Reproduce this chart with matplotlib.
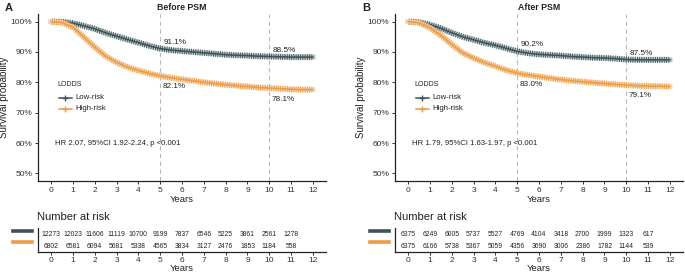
import matplotlib
matplotlib.use("Agg")
import matplotlib.pyplot as plt
import matplotlib.patheffects as pe
from matplotlib.lines import Line2D

plt.rcParams['font.family'] = ['Liberation Sans', 'DejaVu Sans']

years = [0, 0.5, 1, 1.5, 2, 2.5, 3, 3.5, 4, 4.5, 5, 5.5, 6, 6.5, 7, 7.5, 8, 8.5, 9, 9.5, 10, 10.5, 11, 11.5, 12]

before_low = [100, 99.9, 99.5, 98.6, 97.6, 96.3, 95.2, 94.1, 93.1, 92.0, 91.1, 90.6, 90.3, 90.0, 89.7,
              89.4, 89.1, 88.9, 88.8, 88.6, 88.5, 88.4, 88.3, 88.3, 88.3]
before_high = [100, 99.7, 98.2, 94.9, 91.6, 88.6, 86.6, 85.0, 83.9, 82.9, 82.1, 81.5, 81.0, 80.5, 80.0,
               79.6, 79.2, 78.9, 78.6, 78.3, 78.1, 77.9, 77.7, 77.6, 77.6]
after_low = [100, 99.8, 99.0, 97.8, 96.3, 95.0, 94.0, 93.0, 92.2, 91.2, 90.2, 89.6, 89.2, 89.0, 88.8,
             88.5, 88.3, 88.1, 88.0, 87.8, 87.5, 87.4, 87.4, 87.4, 87.4]
after_high = [100, 99.6, 98.0, 95.5, 92.5, 89.7, 88.0, 86.5, 85.3, 84.0, 83.0, 82.4, 81.9, 81.4, 80.9,
              80.5, 80.2, 79.9, 79.6, 79.3, 79.1, 78.9, 78.8, 78.7, 78.6]

risk_times = list(range(12))
risk_before_low = [12273, 12023, 11606, 11119, 10700, 9199, 7837, 6546, 5225, 3861, 2561, 1278]
risk_before_high = [6802, 6581, 6094, 5681, 5338, 4565, 3834, 3127, 2476, 1853, 1184, 558]
risk_after_low = [6375, 6249, 6005, 5737, 5527, 4769, 4104, 3418, 2700, 1999, 1323, 617]
risk_after_high = [6375, 6166, 5738, 5367, 5059, 4356, 3690, 3006, 2386, 1782, 1144, 539]

titles = ["Before PSM", "After PSM"]
panel_letters = ["A", "B"]
hr_texts = ["HR 2.07, 95%CI 1.92-2.24, p <0.001", "HR 1.79, 95%CI 1.63-1.97, p <0.001"]
labels_low = [["91.1%", "88.5%"], ["90.2%", "87.5%"]]
labels_high = [["82.1%", "78.1%"], ["83.0%", "79.1%"]]
label_times = [5, 10]
groups = ["Low-risk", "High-risk"]

C_LOW = "#3E5358"
C_HIGH = "#EE9B45"
H_LOW = "#B3C1C3"
H_HIGH = "#F8D6AE"
TXT = "#222222"

W, H = 685, 274
fig = plt.figure(figsize=(6.85, 2.74), dpi=100)

def fr(x0, y0, x1, y1):
    return [x0 / W, 1 - y1 / H, (x1 - x0) / W, (y1 - y0) / H]

main_boxes = [fr(38, 14, 326, 181), fr(395, 14, 683, 181)]
table_boxes = [fr(38, 228, 326, 252), fr(395, 228, 683, 252)]
curves = [(before_low, before_high), (after_low, after_high)]
risks = [(risk_before_low, risk_before_high), (risk_after_low, risk_after_high)]

def curve_effects(hc):
    return [pe.Stroke(linewidth=3.6, foreground=hc), pe.Normal(),
            pe.TickedStroke(spacing=1.6, angle=90, length=1.2, linewidth=0.6),
            pe.TickedStroke(spacing=1.6, angle=-90, length=1.2, linewidth=0.6)]

for i in range(2):
    ax = fig.add_axes(main_boxes[i])
    low, high = curves[i]
    for t in label_times:
        ax.axvline(t, color="#BBBBBB", lw=0.8, ls=(0, (4, 3)), zorder=1)
    for vals, c, hc in [(low, C_LOW, H_LOW), (high, C_HIGH, H_HIGH)]:
        ax.plot(years, vals, color=c, lw=1.1, zorder=3, path_effects=curve_effects(hc))
    ax.set_xlim(-0.6, 12.6)
    ax.set_ylim(47.5, 102.5)
    ax.set_xticks(range(13))
    ax.set_yticks([50, 60, 70, 80, 90, 100])
    ax.set_yticklabels(["50%", "60%", "70%", "80%", "90%", "100%"])
    ax.tick_params(labelsize=6, colors="#333333", length=2.5, width=0.7, pad=1.5)
    for s in ["top", "right"]:
        ax.spines[s].set_visible(False)
    for s in ["left", "bottom"]:
        ax.spines[s].set_color("#222222")
        ax.spines[s].set_linewidth(0.9)
    ax.set_xlabel("Years", fontsize=6.8, color=TXT, labelpad=1)
    ax.set_ylabel("Survival probability", fontsize=7, color=TXT, labelpad=1.5)
    ax.set_title(titles[i], fontsize=6.3, fontweight="bold", color=TXT, pad=3)
    idx = [years.index(t) for t in label_times]
    for j, t in enumerate(label_times):
        ax.text(t + 0.15, low[idx[j]] + 2.1, labels_low[i][j], fontsize=5.9, color=TXT, va="center", ha="left")
        ax.text(t + 0.1, high[idx[j]] - 3.6, labels_high[i][j], fontsize=5.9, color=TXT, va="center", ha="left")
    ax.text(0.2, 60, hr_texts[i], fontsize=5.6, color=TXT, va="center", ha="left")
    # legend
    ax.text(0.3, 79.3, "LODDS", fontsize=5.0, color=TXT, va="center", ha="left")
    for k, (g, c, hc) in enumerate([(groups[0], C_LOW, H_LOW), (groups[1], C_HIGH, H_HIGH)]):
        yy = 75.0 - k * 3.7
        ax.plot([0.35, 0.95], [yy, yy], color=c, lw=1.1, zorder=5)
        ax.plot([0.65], [yy], marker="+", ms=4, mew=1.0, color=c, zorder=6)
        ax.text(1.1, yy, g, fontsize=5.6, color=TXT, va="center", ha="left")
    fig.text(main_boxes[i][0] - 33 / W, 1 - 8 / H, panel_letters[i], fontsize=8, fontweight="bold",
             color=TXT, va="center", ha="left")

    # risk table
    tx = fig.add_axes(table_boxes[i])
    rl, rh = risks[i]
    for t, a, b in zip(risk_times, rl, rh):
        tx.text(t, 1.5, str(a), fontsize=4.9, color=TXT, ha="center", va="center")
        tx.text(t, 0.5, str(b), fontsize=4.9, color=TXT, ha="center", va="center")
    tx.set_xlim(-0.6, 12.6)
    tx.set_ylim(0, 2)
    tx.set_xticks(range(13))
    tx.set_yticks([])
    tx.tick_params(labelsize=6, colors="#333333", length=2, width=0.7, pad=1.5)
    for s in ["top", "right"]:
        tx.spines[s].set_visible(False)
    for s in ["left", "bottom"]:
        tx.spines[s].set_color("#222222")
        tx.spines[s].set_linewidth(0.9)
    tx.set_xlabel("Years", fontsize=6.8, color=TXT, labelpad=0)
    x0 = table_boxes[i][0] * W
    fig.text((x0 - 1) / W, 1 - 217 / H, "Number at risk", fontsize=8, color=TXT, va="center", ha="left")
    for yy, c in [(230.5, C_LOW), (242, C_HIGH)]:
        fig.add_artist(Line2D([(x0 - 25) / W, (x0 - 6) / W], [1 - yy / H, 1 - yy / H],
                              color=c, lw=2.6, transform=fig.transFigure))

fig.savefig("out.png", dpi=100)
